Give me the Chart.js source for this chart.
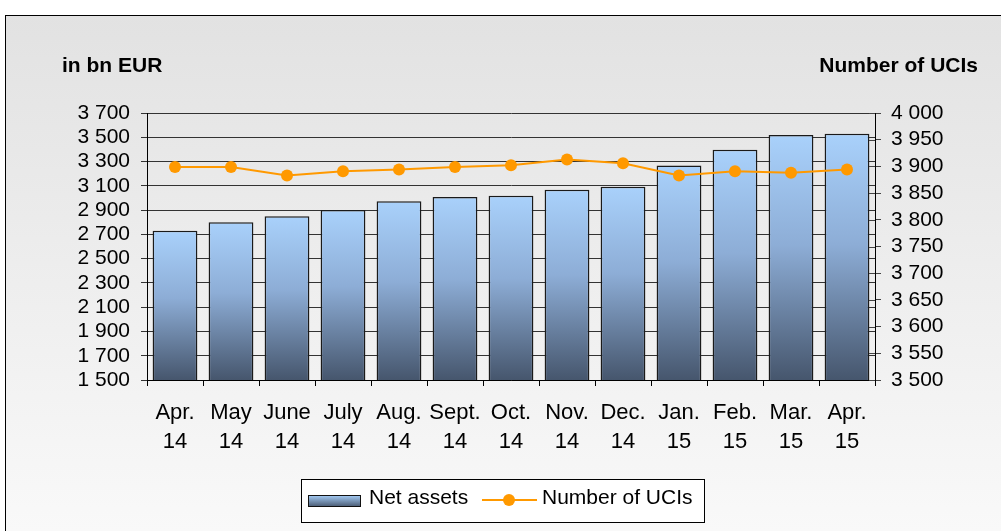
<!DOCTYPE html>
<html>
<head>
<meta charset="utf-8">
<script src="https://cdn.jsdelivr.net/npm/chart.js@4"></script>
<style>
  html, body { margin: 0; padding: 0; background: #fff; }
  #wrap { position: relative; width: 1001px; height: 531px; }
</style>
</head>
<body>
<div id="wrap"><canvas id="chart" width="1001" height="531"></canvas></div>
<script>
// months on the x axis (two lines each)
const months = [["Apr.","14"],["May","14"],["June","14"],["July","14"],["Aug.","14"],["Sept.","14"],["Oct.","14"],["Nov.","14"],["Dec.","14"],["Jan.","15"],["Feb.","15"],["Mar.","15"],["Apr.","15"]]
// net assets, bn EUR (left axis)
const netAssets = [2730, 2800, 2850, 2900, 2972, 3007, 3018, 3068, 3092, 3268, 3397, 3518, 3529]
// number of UCIs (right axis)
const ucis = [3899, 3899, 3883, 3891, 3894, 3899, 3902, 3913, 3906, 3883, 3891, 3888, 3894]
// tick values of both axes
const leftTickValues = [1500, 1700, 1900, 2100, 2300, 2500, 2700, 2900, 3100, 3300, 3500, 3700]
const rightTickValues = [3500, 3550, 3600, 3650, 3700, 3750, 3800, 3850, 3900, 3950, 4000]

const fmt = (v)=> String(v).replace(/\B(?=(\d{3})+(?!\d))/g, ' ')
const FONT = "'Liberation Sans', Arial, sans-serif"

const barFill = (ctx)=>{
    const chart = ctx.chart
    if (!chart.chartArea || ctx.parsed === undefined) return '#8fb3dc'
    const top = chart.scales.y.getPixelForValue(ctx.parsed.y)
    const bottom = chart.chartArea.bottom
    const g = chart.ctx.createLinearGradient(0, top, 0, bottom)
    g.addColorStop(0, '#a9d1fb')
    g.addColorStop(0.45, '#8dadd6')
    g.addColorStop(1, '#46566d')
    return g
}

const decor = {
    id: 'decor',
    beforeDraw:(chart)=>{
        const c = chart.ctx
        c.save()
        c.fillStyle = '#fff'
        c.fillRect(0, 0, chart.width, chart.height)
        const g = c.createLinearGradient(0, 15, 0, chart.height)
        g.addColorStop(0, '#e2e2e2')
        g.addColorStop(1, '#f9f9f9')
        c.fillStyle = g
        c.fillRect(5, 15, chart.width, chart.height)
        c.strokeStyle = '#000'
        c.lineWidth = 1
        c.strokeRect(5.5, 15.5, chart.width + 10, chart.height + 10)
        c.restore()
    },
    afterDraw:(chart)=>{
        const c = chart.ctx
        const area = chart.chartArea
        c.save()
        // axis titles
        c.fillStyle = '#000'
        c.font = 'bold 21px ' + FONT
        c.textBaseline = 'alphabetic'
        c.textAlign = 'left'
        c.fillText('in bn EUR', 62, 72)
        c.textAlign = 'right'
        c.fillText('Number of UCIs', 978, 72)
        // inward tick marks on the right axis
        const y1 = chart.scales.y1
        c.strokeStyle = '#444'
        c.lineWidth = 1
        y1.ticks.forEach((t)=>{
            const py = Math.round(y1.getPixelForValue(t.value)) + 0.5
            c.beginPath(); c.moveTo(area.right - 6, py); c.lineTo(area.right, py); c.stroke()
        })
        // legend
        c.fillStyle = '#fff'
        c.fillRect(301, 479, 404, 43)
        c.strokeStyle = '#000'
        c.strokeRect(301.5, 479.5, 403, 43)
        const sg = c.createLinearGradient(0, 495, 0, 507)
        sg.addColorStop(0, '#a9d1fb')
        sg.addColorStop(1, '#46566d')
        c.fillStyle = sg
        c.fillRect(308, 495, 53, 12)
        c.strokeStyle = '#111'
        c.strokeRect(308.5, 495.5, 52, 11)
        c.fillStyle = '#000'
        c.font = '21px ' + FONT
        c.textAlign = 'left'
        c.textBaseline = 'alphabetic'
        c.fillText('Net assets', 369, 504)
        c.strokeStyle = '#ff9900'
        c.lineWidth = 2
        c.beginPath(); c.moveTo(482, 500); c.lineTo(537, 500); c.stroke()
        c.fillStyle = '#ff9900'
        c.beginPath(); c.arc(509, 500, 6, 0, Math.PI * 2); c.fill()
        c.fillStyle = '#000'
        c.fillText('Number of UCIs', 542, 504)
        c.restore()
    }
}

new Chart(document.getElementById('chart'), {
    data: {
        labels: months,
        datasets: [
            {type: 'line', label: 'Number of UCIs', data: ucis, yAxisID: 'y1', order: 0,
             borderColor: '#ff9900', backgroundColor: '#ff9900', borderWidth: 2,
             pointRadius: 6, pointBorderWidth: 0, tension: 0},
            {type: 'bar', label: 'Net assets', data: netAssets, yAxisID: 'y', order: 1,
             backgroundColor: barFill, borderColor: '#1a1a1a', borderWidth: 1.5,
             barPercentage: 0.8, categoryPercentage: 1}
        ]
    },
    options: {
        responsive: false,
        animation: false,
        layout: {padding: {top: 113, left: 0, right: 0, bottom: 0}},
        plugins: {legend: {display: false}, tooltip: {enabled: false}},
        scales: {
            x: {
                offset: true,
                grid: {display: true, drawOnChartArea: false, offset: true, tickLength: 6, color: '#000'},
                border: {color: '#000', width: 1},
                ticks: {color: '#000', maxRotation: 0, autoSkip: false, padding: 13,
                        font: {family: FONT, size: 22, lineHeight: 1.29}},
                afterFit:(s)=>{ s.height = 151 }
            },
            y: {
                position: 'left',
                min: leftTickValues[0], max: leftTickValues[leftTickValues.length - 1],
                grid: {color: '#333', lineWidth: 1, tickLength: 6},
                border: {color: '#000', width: 1},
                ticks: {color: '#000', padding: 11, autoSkip: false,
                        font: {family: FONT, size: 21}, callback: (v)=>fmt(v)},
                afterBuildTicks:(s)=>{ s.ticks = leftTickValues.map((v)=>({value: v})) },
                afterFit:(s)=>{ s.width = 147 }
            },
            y1: {
                position: 'right',
                min: rightTickValues[0], max: rightTickValues[rightTickValues.length - 1],
                grid: {drawOnChartArea: false, color: '#444', tickLength: 6},
                border: {color: '#000', width: 1},
                ticks: {color: '#000', padding: 10, autoSkip: false,
                        font: {family: FONT, size: 21}, callback: (v)=>fmt(v)},
                afterBuildTicks:(s)=>{ s.ticks = rightTickValues.map((v)=>({value: v})) },
                afterFit:(s)=>{ s.width = 126 }
            }
        }
    },
    plugins: [decor]
})
</script>
</body>
</html>
